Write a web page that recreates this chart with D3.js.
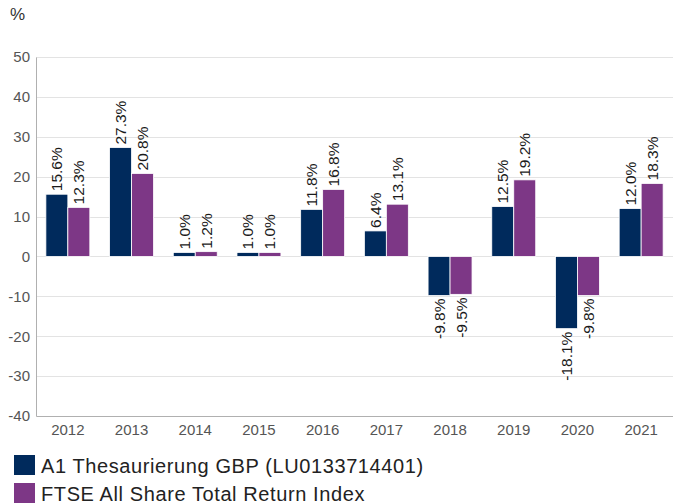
<!DOCTYPE html>
<html>
<head>
<meta charset="utf-8">
<script src="https://cdn.jsdelivr.net/npm/d3@7"></script>
<style>
  body { margin: 0; background: #fff; }
  svg { font-family: "Liberation Sans", Arial, sans-serif; }
</style>
</head>
<body>
<svg id="chart" width="673" height="504"></svg>
<script>
const years = ["2012", "2013", "2014", "2015", "2016", "2017", "2018", "2019", "2020", "2021"];
const fundValues = [15.6, 27.3, 1.0, 1.0, 11.8, 6.4, -9.8, 12.5, -18.1, 12.0];
const indexValues = [12.3, 20.8, 1.2, 1.0, 16.8, 13.1, -9.5, 19.2, -9.8, 18.3];
const seriesNames = ["A1 Thesaurierung GBP (LU0133714401)", "FTSE All Share Total Return Index"];
const yTicks = [-40, -30, -20, -10, 0, 10, 20, 30, 40, 50];

(function () {
  const svg = d3.select("#chart"),
    margin = { top: 57, right: 0, bottom: 88, left: 36 },
    width = +svg.attr("width") - margin.left - margin.right,
    height = +svg.attr("height") - margin.top - margin.bottom;

  const colors = ["#002a5c", "#7d3786"];
  const chart = svg.append("g").attr("transform", `translate(${margin.left},${margin.top})`);

  const x = d3.scaleBand().domain(years).range([0, width]).paddingInner(0.31).paddingOuter(0.155);
  const x1 = d3.scaleBand().domain([0, 1]).range([0, x.bandwidth()]);
  const y = d3.scaleLinear().domain([-40, 50]).range([height, 0]);

  // grid
  chart.append("g").selectAll("line")
    .data(yTicks.filter(d => d !== -40))
    .enter().append("line")
    .attr("x1", 0).attr("x2", width)
    .attr("y1", d => Math.round(y(d)) + 0.5).attr("y2", d => Math.round(y(d)) + 0.5)
    .attr("stroke", "#e3e3e3");

  // axes
  const yAxis = chart.append("g")
    .call(d3.axisLeft(y).tickValues(yTicks).tickFormat(d => String(d)).tickSize(0).tickPadding(6));
  yAxis.select(".domain").attr("stroke", "#b0b0b0");
  yAxis.selectAll("text").attr("fill", "#555").style("font-size", "15px");

  const xAxis = chart.append("g").attr("transform", `translate(0,${height})`)
    .call(d3.axisBottom(x).tickSize(0).tickPadding(8));
  xAxis.select(".domain").attr("stroke", "#b0b0b0");
  xAxis.selectAll("text").attr("fill", "#555").style("font-size", "15px");

  const rows = years.map((yr, i) => [
    { year: yr, s: 0, v: fundValues[i] },
    { year: yr, s: 1, v: indexValues[i] }
  ]).flat();

  chart.selectAll("rect.bar")
    .data(rows)
    .enter().append("rect")
    .attr("class", "bar")
    .attr("x", d => x(d.year) + x1(d.s))
    .attr("width", x1.bandwidth())
    .attr("y", d => y(Math.max(0, d.v)))
    .attr("height", d => Math.abs(y(d.v) - y(0)))
    .attr("fill", d => colors[d.s])
    .attr("stroke", "#fff")
    .attr("stroke-width", 0.8);

  chart.selectAll("text.lbl")
    .data(rows)
    .enter().append("text")
    .attr("class", "lbl")
    .attr("transform", d => {
      const cx = x(d.year) + x1(d.s) + x1.bandwidth() / 2 + 5.5;
      const cy = d.v >= 0 ? y(d.v) - 3 : y(d.v) + 3;
      return `translate(${cx},${cy}) rotate(-90)`;
    })
    .attr("text-anchor", d => d.v >= 0 ? "start" : "end")
    .attr("fill", "#1a1a1a")
    .style("font-size", "15.5px")
    .text(d => d.v.toFixed(1) + "%");

  svg.append("text")
    .attr("x", 10).attr("y", 20)
    .attr("fill", "#333")
    .style("font-size", "17px")
    .text("%");

  const legend = svg.selectAll(".legend")
    .data(seriesNames)
    .enter().append("g")
    .attr("class", "legend")
    .attr("transform", (d, i) => `translate(14, ${455 + i * 28})`);

  legend.append("rect")
    .attr("width", 21).attr("height", 20)
    .style("fill", (d, i) => colors[i]);

  legend.append("text")
    .attr("x", 27).attr("y", 18)
    .attr("fill", "#222")
    .style("font-size", "20px")
    .style("letter-spacing", "0.6px")
    .text(d => d);
})();
</script>
</body>
</html>
